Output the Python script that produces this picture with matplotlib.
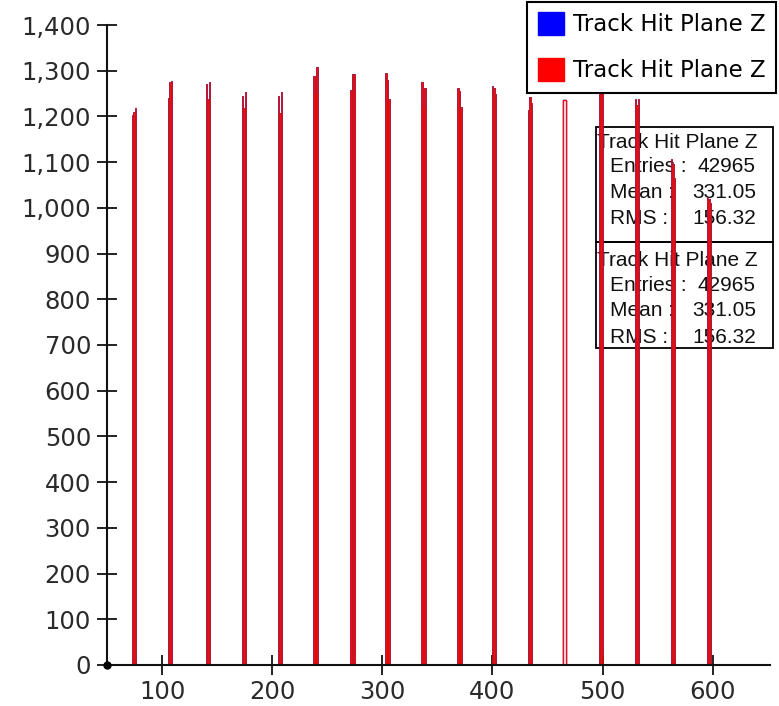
import matplotlib
matplotlib.use("Agg")
import matplotlib.pyplot as plt
import numpy as np
from matplotlib.patches import Patch, Rectangle
from matplotlib.ticker import FuncFormatter

# ---- data ----
spike_centers = [74.6, 107.2, 141.7, 174.3, 206.9, 239.5, 273.0, 304.7,
                 337.3, 369.9, 401.6, 434.2, 498.6, 531.2, 563.8, 596.4]
h_left  = [1203, 1241, 1270, 1245, 1245, 1289, 1258, 1295,
           1276, 1262, 1267, 1214, 1250, 1238, 1107, 1024]
h_mid   = [1210, 1275, 1239, 1219, 1208, 1252, 1293, 1280,
           1221, 1255, 1262, 1243, 1262, 1225, 1095, 1020]
h_right = [1219, 1278, 1276, 1254, 1254, 1309, 1293, 1239,
           1262, 1221, 1250, 1230, 1255, 1238, 1066, 1010]
thin_centers = [465.5]
thin_heights = [1236]

series_labels = ["Track Hit Plane Z", "Track Hit Plane Z"]
stats_title = "Track Hit Plane Z"
stats_names = ["Entries :", "Mean :", "RMS :"]
stats_values = ["42965", "331.05", "156.32"]

x_ticks = [100, 200, 300, 400, 500, 600]
y_ticks = list(range(0, 1401, 100))

# ---- figure ----
W, H = 779, 706
fig = plt.figure(figsize=(W / 100, H / 100), dpi=100)
ax = fig.add_axes([107 / W, 1 - 665 / H, (770 - 107) / W, (665 - 25) / H])

sub_w = 1.35
offsets = [-sub_w, 0.0, sub_w]
centers = np.array(spike_centers)
for hist_color, edge, z in [("#0000ff", "#0000aa", 1.5), ("#f20c0c", "#cc1616", 2)]:
    for off, hh in zip(offsets, [h_left, h_mid, h_right]):
        ax.bar(centers + off, hh, width=sub_w, align="center",
               color=hist_color, edgecolor=edge, linewidth=0.4, zorder=z)
    ax.bar(thin_centers, thin_heights, width=2.7, align="center",
           facecolor="white" if z == 2 else "none", edgecolor=hist_color,
           linewidth=1.0, zorder=z)

ax.set_xlim(50, 652)
ax.set_ylim(0, 1400)
ax.set_xticks(x_ticks)
ax.set_yticks(y_ticks)
ax.yaxis.set_major_formatter(FuncFormatter(lambda v, p: f"{int(v):,}"))

for s in ["top", "right"]:
    ax.spines[s].set_visible(False)
for s in ["left", "bottom"]:
    ax.spines[s].set_linewidth(1.5)
    ax.spines[s].set_color("#111111")

ax.tick_params(axis="both", direction="inout", length=15, width=1.3,
               color="#111111", labelsize=17.5, labelcolor="#2a2a2a")
ax.tick_params(axis="y", pad=4)
ax.tick_params(axis="x", pad=3)

# origin dot
ax.plot([50], [0], marker="o", markersize=5, color="black", clip_on=False, zorder=5)

# ---- legend ----
handles = [Patch(facecolor="#0000ff", edgecolor="#0000ff"),
           Patch(facecolor="#ff0000", edgecolor="#ff0000")]
leg = ax.legend(handles, series_labels, loc="upper right",
                bbox_to_anchor=(776 / W, 1 - 2 / H), bbox_transform=fig.transFigure,
                borderaxespad=0, fontsize=16.5, fancybox=False, framealpha=1,
                edgecolor="black", handlelength=1.15, handleheight=1.15,
                handletextpad=0.4, labelspacing=0.95, borderpad=0.45)
leg.get_frame().set_linewidth(1.5)
leg.set_zorder(10)

# ---- stats boxes (drawn beneath the histogram) ----
def fx(px):
    return px / W

def fy(py):
    return 1 - py / H

for top, bot in [(127, 242), (242, 348)]:
    ax.add_patch(Rectangle((fx(596), fy(bot)), fx(773) - fx(596), fy(top) - fy(bot),
                           transform=fig.transFigure, fill=False, edgecolor="black",
                           linewidth=1.3, clip_on=False, zorder=1))

sfont = dict(fontsize=15, family="Liberation Sans", color="#111111")
for ys in [(142, 167, 193, 218), (260, 285, 310, 337)]:
    ax.text(fx(597), fy(ys[0]), stats_title, transform=fig.transFigure,
            ha="left", va="center", clip_on=False, zorder=1, **sfont)
    for name, val, yy in zip(stats_names, stats_values, ys[1:]):
        ax.text(fx(610), fy(yy), name, transform=fig.transFigure,
                ha="left", va="center", clip_on=False, zorder=1, **sfont)
        ax.text(fx(756), fy(yy), val, transform=fig.transFigure,
                ha="right", va="center", clip_on=False, zorder=1, **sfont)

fig.savefig("out.png", dpi=100)
